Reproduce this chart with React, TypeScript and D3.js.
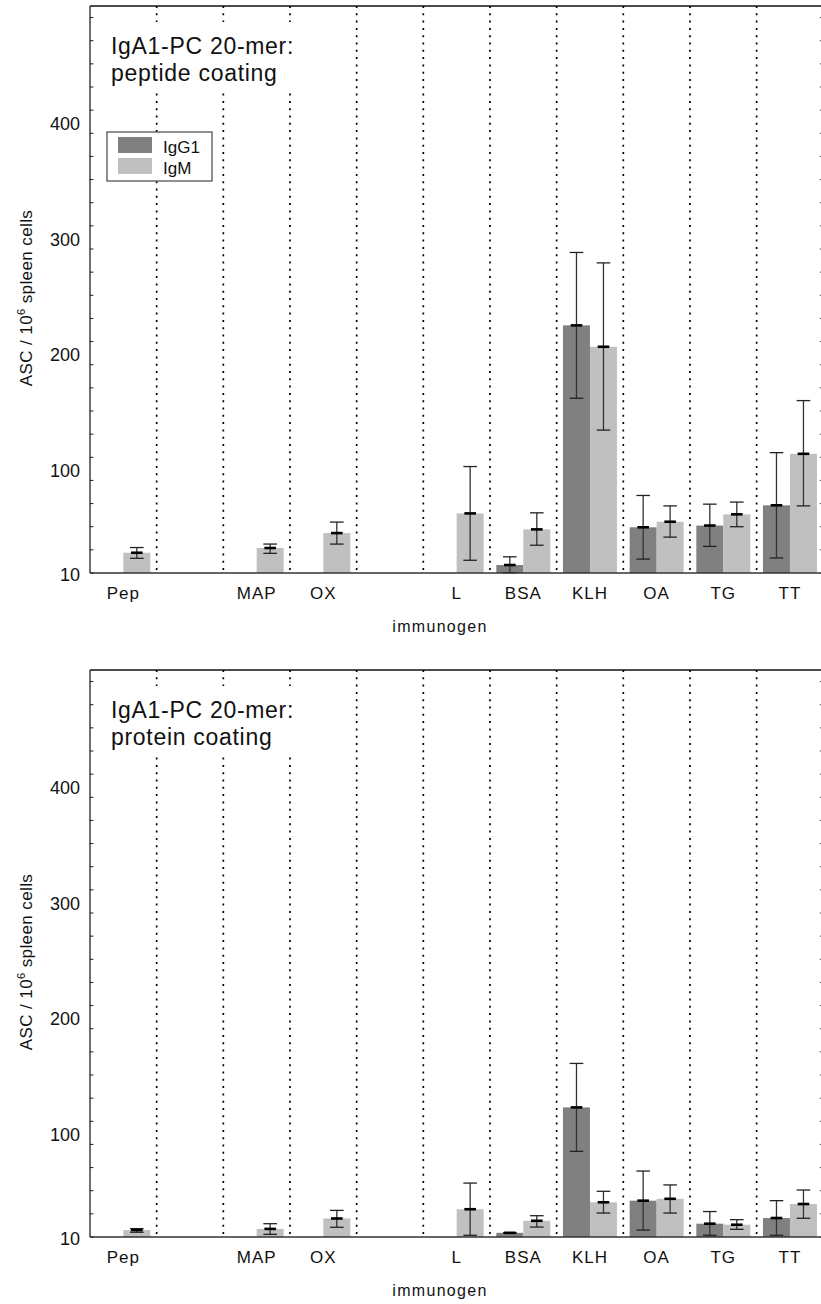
import React from "react";
import * as d3 from "d3";

// ---------- data ----------
const categories = ["Pep", "", "MAP", "OX", "", "L", "BSA", "KLH", "OA", "TG", "TT"];
const seriesNames = ["IgG1", "IgM"];
const seriesColors = ["#808080", "#c0c0c0"];

const panelTitles = [
  ["IgA1-PC 20-mer:", "peptide coating"],
  ["IgA1-PC 20-mer:", "protein coating"],
];

// peptide coating
const pepIgG1 = [null, null, null, null, null, null, 16.9, 224, 49.5, 51, 68.5];
const pepIgG1Hi = [null, null, null, null, null, null, 24, 287, 77, 69.5, 114];
const pepIgG1Lo = [null, null, null, null, null, null, 10.3, 161, 22, 33, 23];
const pepIgM = [27.5, null, 31.6, 44.5, null, 61.5, 47.7, 205.5, 54.3, 60.7, 113];
const pepIgMHi = [32, null, 35, 54, null, 102, 62, 278, 68, 71.3, 159];
const pepIgMLo = [22.7, null, 27, 35, null, 21, 34, 133.5, 41, 50, 68];

// protein coating
const protIgG1 = [null, null, null, null, null, null, 13.6, 122, 41.4, 21.5, 26.4];
const protIgG1Hi = [null, null, null, null, null, null, 13.8, 160, 67, 32, 41.4];
const protIgG1Lo = [null, null, null, null, null, null, 13.4, 84, 16, 11.5, 11.5];
const protIgM = [16, null, 17, 26, null, 34, 24, 40, 43, 20.6, 38.5];
const protIgMHi = [17.2, null, 21.5, 33, null, 56.6, 28.4, 49.5, 55, 25, 50.6];
const protIgMLo = [14.1, null, 12.3, 18.4, null, 11.5, 18.6, 30.7, 30.7, 16.6, 26.2];

const yDomain = [10, 500];
const yTickLabels = [10, 100, 200, 300, 400];
const yMinorTicks = d3.range(10, 500, 20);

const panels = [
  { title: panelTitles[0], mean: [pepIgG1, pepIgM], hi: [pepIgG1Hi, pepIgMHi], lo: [pepIgG1Lo, pepIgMLo], legend: true },
  { title: panelTitles[1], mean: [protIgG1, protIgM], hi: [protIgG1Hi, protIgMHi], lo: [protIgG1Lo, protIgMLo], legend: false },
];

// ---------- layout ----------
const W = 821;
const H = 1304;
const LEFT = 90;
const RIGHT = 823.3;
const PANEL_TOPS = [6, 670];
const PANEL_H = 567;
const FONT = "'Liberation Sans', Arial, Helvetica, sans-serif";

const x = d3.scaleBand<number>().domain(d3.range(categories.length)).range([LEFT, RIGHT]).padding(0);
const inner = d3.scaleBand<string>().domain(seriesNames).range([0, x.bandwidth()]).paddingInner(0).paddingOuter(0.235);

function Panel({ p, top }: { p: any; top: number }) {
  const base = top + PANEL_H;
  const y = d3.scaleLinear().domain(yDomain).range([base, top]);
  const boundaries = d3.range(1, categories.length).map((i) => x(i) as number);
  return (
    <g>
      {/* dotted separators */}
      {boundaries.map((bx, i) => (
        <line key={"d" + i} x1={bx} x2={bx} y1={top} y2={base} stroke="#000" strokeWidth={1.7} strokeDasharray="2,5.3" />
      ))}
      {/* title box */}
      <rect x={100} y={top + 16} width={210} height={70} fill="#fff" />
      <text x={111} y={top + 48} fontFamily={FONT} fontSize={23} letterSpacing={0.7} fill="#111">{p.title[0]}</text>
      <text x={111} y={top + 74.5} fontFamily={FONT} fontSize={23} letterSpacing={0.7} fill="#111">{p.title[1]}</text>

      {/* bars */}
      {p.mean.map((arr: (number | null)[], s: number) =>
        arr.map((v, i) => {
          if (v == null) return null;
          const bx = (x(i) as number) + (inner(seriesNames[s]) as number);
          const bw = inner.bandwidth();
          return <rect key={`b${s}-${i}`} x={bx} y={y(v)} width={bw} height={base - y(v)} fill={seriesColors[s]} />;
        })
      )}
      {/* error bars */}
      {p.mean.map((arr: (number | null)[], s: number) =>
        arr.map((v, i) => {
          if (v == null) return null;
          const cx = (x(i) as number) + (inner(seriesNames[s]) as number) + inner.bandwidth() / 2;
          const hi = p.hi[s][i];
          const lo = p.lo[s][i];
          return (
            <g key={`e${s}-${i}`}>
              <line x1={cx} x2={cx} y1={y(hi)} y2={y(lo)} stroke="#333" strokeWidth={1.3} />
              <line x1={cx - 6.8} x2={cx + 6.8} y1={y(hi)} y2={y(hi)} stroke="#222" strokeWidth={1.3} />
              <line x1={cx - 6.8} x2={cx + 6.8} y1={y(lo)} y2={y(lo)} stroke="#222" strokeWidth={1.3} />
              <line x1={cx - 5.8} x2={cx + 5.8} y1={y(v)} y2={y(v)} stroke="#000" strokeWidth={2.6} />
            </g>
          );
        })
      )}

      {/* frame */}
      <line x1={LEFT} x2={RIGHT} y1={top} y2={top} stroke="#111" strokeWidth={1.5} />
      <line x1={LEFT} x2={RIGHT} y1={base} y2={base} stroke="#333" strokeWidth={1.5} />
      <line x1={LEFT} x2={LEFT} y1={top} y2={base} stroke="#222" strokeWidth={1.3} />
      <line x1={RIGHT} x2={RIGHT} y1={top} y2={base} stroke="#222" strokeWidth={1.3} />
      {yMinorTicks.map((t) => (
        <g key={"t" + t}>
          <line x1={LEFT} x2={LEFT + 3.5} y1={y(t)} y2={y(t)} stroke="#222" strokeWidth={1} />
          <line x1={RIGHT - 3.5} x2={RIGHT} y1={y(t)} y2={y(t)} stroke="#444" strokeWidth={1} />
        </g>
      ))}
      {yTickLabels.map((t) => (
        <text key={"l" + t} x={80} y={y(t) + 2} dy="0.35em" textAnchor="end" fontFamily={FONT} fontSize={18} fill="#111">
          {t}
        </text>
      ))}
      {/* category labels */}
      {categories.map((c, i) =>
        c ? (
          <text key={"c" + i} x={(x(i) as number) + x.bandwidth() / 2} y={base + 26} textAnchor="middle" fontFamily={FONT} fontSize={17} letterSpacing={1} fill="#111">
            {c}
          </text>
        ) : null
      )}
      {/* x axis title */}
      <text x={440} y={base + 59} textAnchor="middle" fontFamily={FONT} fontSize={16} letterSpacing={1.3} fill="#111">
        immunogen
      </text>
      {/* y axis title */}
      <text transform={`translate(32,${top + 292}) rotate(-90)`} textAnchor="middle" fontFamily={FONT} fontSize={17} letterSpacing={0.4} fill="#111">
        ASC / 10<tspan dy={-7} fontSize={11}>6</tspan>
        <tspan dy={7}> spleen cells</tspan>
      </text>

      {/* legend */}
      {p.legend ? (
        <g>
          <rect x={107} y={top + 126} width={105} height={49} fill="#fff" stroke="#555" strokeWidth={1.3} />
          {seriesNames.map((s, k) => (
            <g key={"lg" + s}>
              <rect x={118} y={top + 131 + k * 21} width={34} height={16} fill={seriesColors[k]} />
              <text x={163} y={top + 147 + k * 21} fontFamily={FONT} fontSize={17} fill="#111">
                {s}
              </text>
            </g>
          ))}
        </g>
      ) : null}
    </g>
  );
}

export default function App() {
  return (
    <svg width={W} height={H} style={{ position: "absolute", left: 0, top: 0, background: "#fff" }}>
      <rect x={0} y={0} width={W} height={H} fill="#fff" />
      {panels.map((p, k) => (
        <Panel key={k} p={p} top={PANEL_TOPS[k]} />
      ))}
    </svg>
  );
}
